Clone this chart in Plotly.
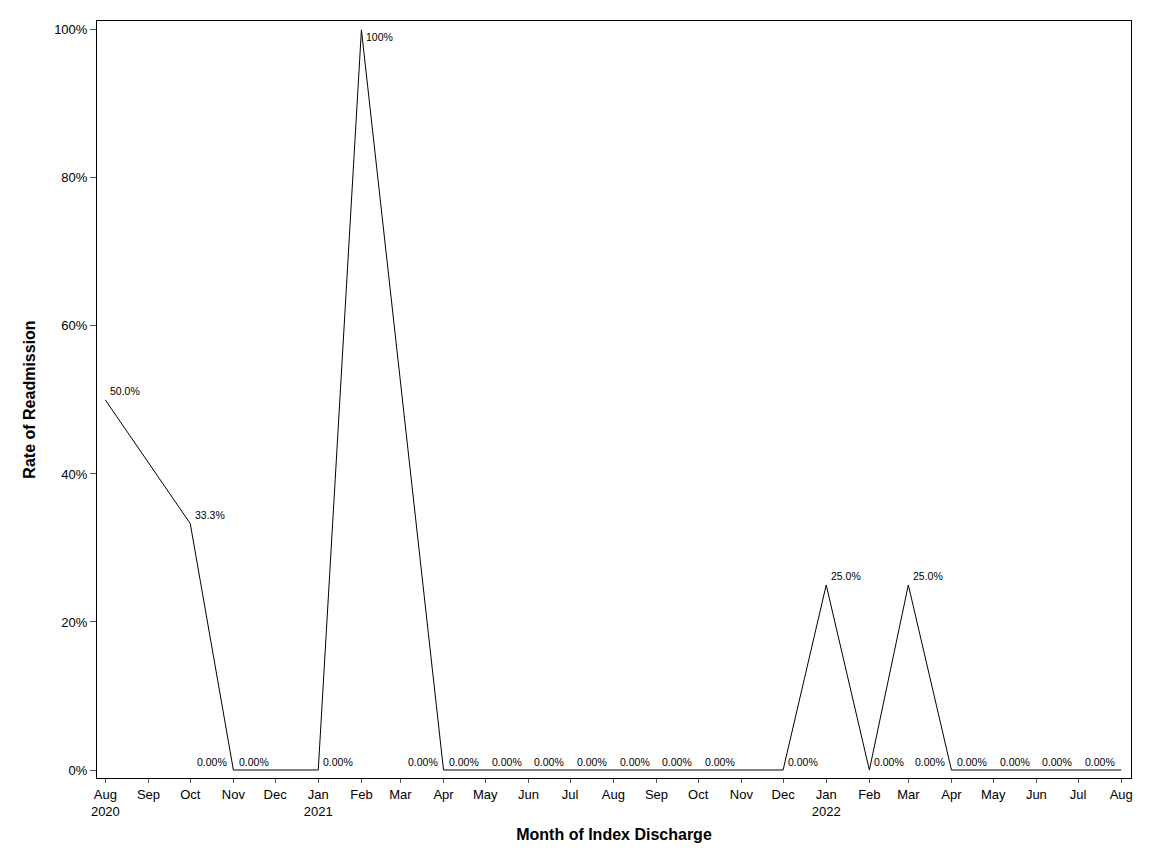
import plotly.graph_objects as go

months = ["2020-08-01", "2020-10-01", "2020-11-01", "2020-12-01", "2021-01-01",
          "2021-02-01", "2021-04-01", "2021-05-01", "2021-06-01", "2021-07-01",
          "2021-08-01", "2021-09-01", "2021-10-01", "2021-11-01", "2021-12-01",
          "2022-01-01", "2022-02-01", "2022-03-01", "2022-04-01", "2022-05-01",
          "2022-06-01", "2022-07-01", "2022-08-01"]
rates = [0.50, 0.333, 0.0, 0.0, 0.0,
         1.00, 0.0, 0.0, 0.0, 0.0,
         0.0, 0.0, 0.0, 0.0, 0.0,
         0.25, 0.0, 0.25, 0.0, 0.0,
         0.0, 0.0, 0.0]
labels = ["50.0%", "33.3%", "0.00%", "0.00%", "0.00%",
          "100%", "0.00%", "0.00%", "0.00%", "0.00%",
          "0.00%", "0.00%", "0.00%", "0.00%", "0.00%",
          "25.0%", "0.00%", "25.0%", "0.00%", "0.00%",
          "0.00%", "0.00%", "0.00%"]
label_side = ["right", "right", "left", "left", "right",
              "right", "left", "left", "left", "left",
              "left", "left", "left", "left", "right",
              "right", "right", "right", "left", "left",
              "left", "left", "left"]
label_vert = ["above"] * 5 + ["below"] + ["above"] * 17

tick_vals = ["2020-08-01", "2020-09-01", "2020-10-01", "2020-11-01", "2020-12-01",
             "2021-01-01", "2021-02-01", "2021-03-01", "2021-04-01", "2021-05-01",
             "2021-06-01", "2021-07-01", "2021-08-01", "2021-09-01", "2021-10-01",
             "2021-11-01", "2021-12-01", "2022-01-01", "2022-02-01", "2022-03-01",
             "2022-04-01", "2022-05-01", "2022-06-01", "2022-07-01", "2022-08-01"]
tick_text = ["Aug<br>2020", "Sep", "Oct", "Nov", "Dec",
             "Jan<br>2021", "Feb", "Mar", "Apr", "May",
             "Jun", "Jul", "Aug", "Sep", "Oct",
             "Nov", "Dec", "Jan<br>2022", "Feb", "Mar",
             "Apr", "May", "Jun", "Jul", "Aug"]
y_ticks = [0, 0.2, 0.4, 0.6, 0.8, 1.0]
y_tick_text = ["0%", "20%", "40%", "60%", "80%", "100%"]

FONT = "Liberation Sans, Arial, sans-serif"

fig = go.Figure()
fig.add_trace(go.Scatter(
    x=months, y=rates, mode="lines",
    line=dict(color="black", width=1),
    showlegend=False, hoverinfo="skip",
))

annotations = []
for m, r, t, side, vert in zip(months, rates, labels, label_side, label_vert):
    annotations.append(dict(
        x=m, y=r, xref="x", yref="y", text=t, showarrow=False,
        xanchor="left" if side == "right" else "right",
        yanchor="bottom" if vert == "above" else "top",
        xshift=3 if side == "right" else -4,
        yshift=0.5 if vert == "above" else 1,
        font=dict(family=FONT, size=10.5, color="black"),
    ))

fig.update_layout(
    width=1152, height=864,
    margin=dict(l=89, r=29, t=13, b=94),
    paper_bgcolor="white", plot_bgcolor="white",
    font=dict(family=FONT, size=13, color="black"),
    annotations=annotations,
)
fig.update_xaxes(
    type="date",
    range=["2020-07-26", "2022-08-08"],
    tickmode="array", tickvals=tick_vals, ticktext=tick_text,
    ticks="outside", ticklen=4, tickcolor="#555555",
    showgrid=False, zeroline=False,
    showline=True, linecolor="black", linewidth=1, mirror=True,
    tickfont=dict(family=FONT, size=13),
    title=dict(text="<b>Month of Index Discharge</b>", font=dict(family=FONT, size=16), standoff=11),
)
fig.update_yaxes(
    range=[-0.0108, 1.012],
    tickmode="array", tickvals=y_ticks, ticktext=y_tick_text,
    ticks="outside", ticklen=6, tickcolor="#555555",
    showgrid=False, zeroline=False,
    showline=True, linecolor="black", linewidth=1, mirror=True,
    tickfont=dict(family=FONT, size=13),
    title=dict(text="<b>Rate of Readmission</b>", font=dict(family=FONT, size=16), standoff=14),
)

fig.write_html("out.html")
